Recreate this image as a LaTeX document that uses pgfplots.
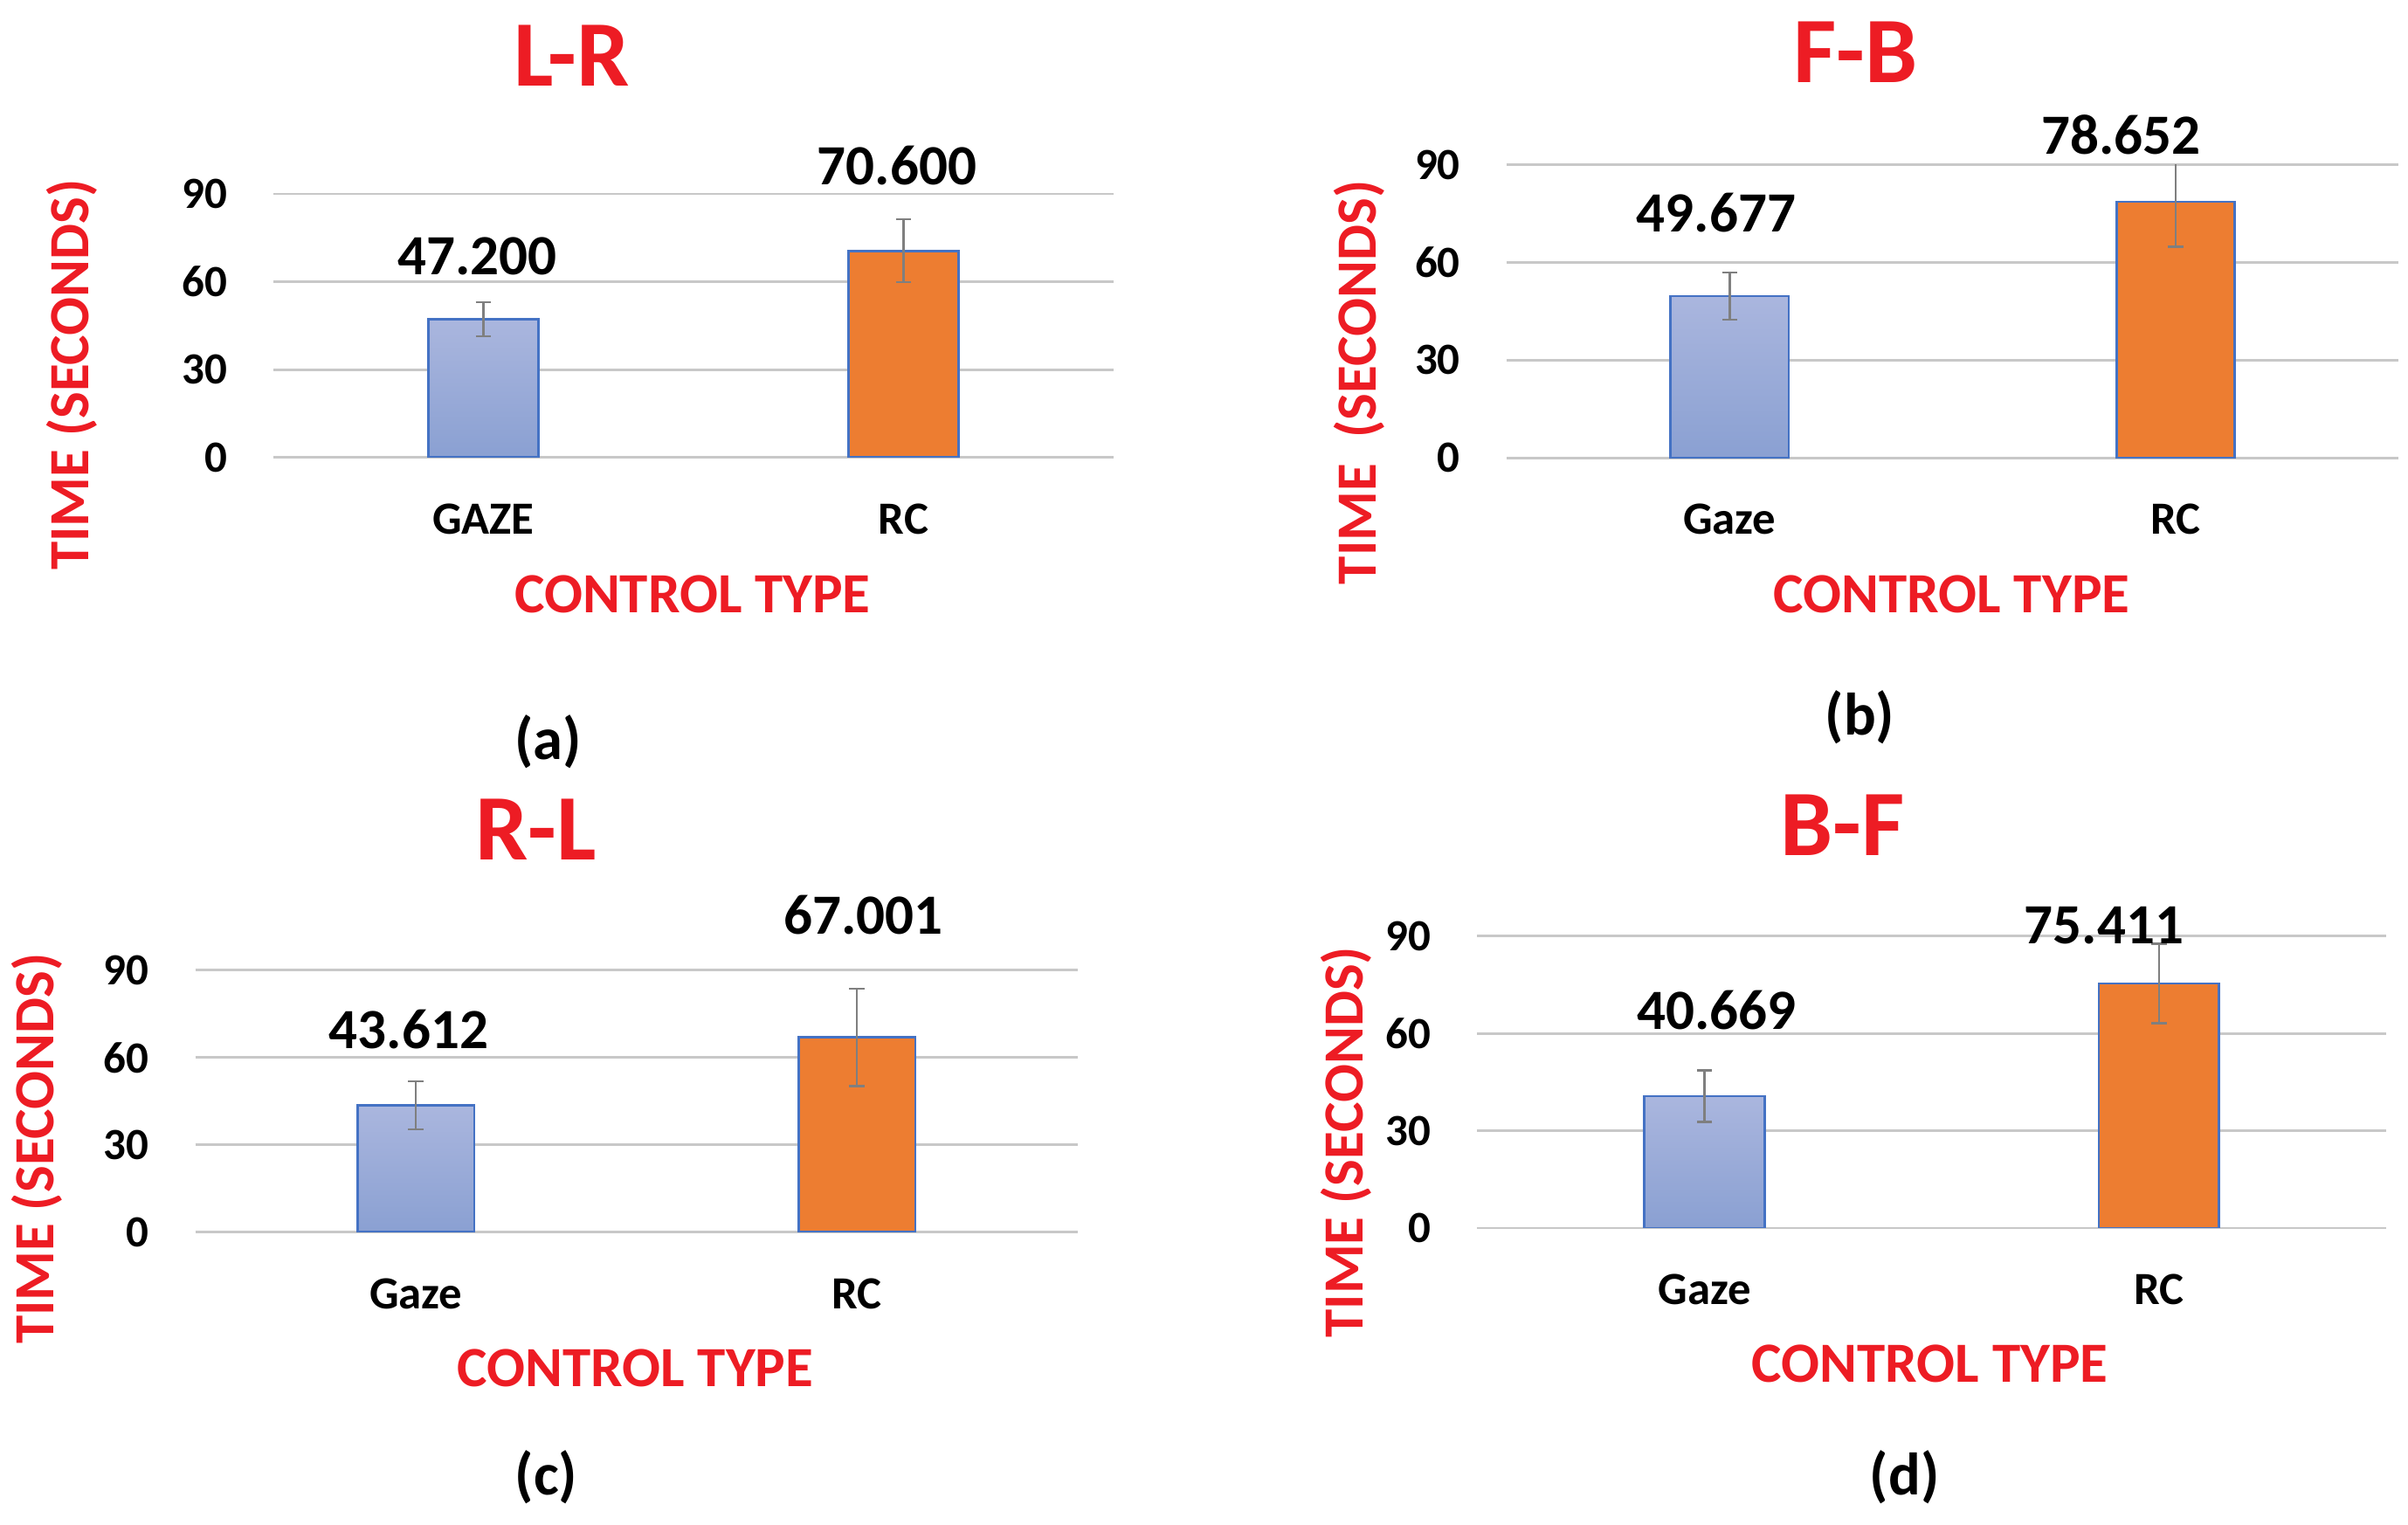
\documentclass[border=0pt]{standalone}
\usepackage{pgfplots}
\pgfplotsset{compat=1.18}
\usepackage{fontspec}
\setmainfont{Carlito}

\definecolor{ttlred}{RGB}{237,28,36}
\definecolor{edgeblue}{RGB}{68,114,196}
\definecolor{rcorange}{RGB}{237,125,49}
\definecolor{gazetop}{RGB}{170,182,222}
\definecolor{gazebot}{RGB}{138,160,210}
\definecolor{errgray}{RGB}{127,127,127}
\definecolor{gridgray}{RGB}{200,200,200}

\newcommand{\fs}[1]{\fontsize{#1}{#1}\selectfont\bfseries}

\pgfplotsset{
  panel/.style={
    scale only axis, anchor=south west,
    ybar, bar width=0.265, bar shift=0pt,
    xmin=-0.5, xmax=1.5,
    ymin=0, ymax=90, ytick={0,30,60,90},
    xtick={0,1},
    ymajorgrids, grid style={gridgray, line width=1.6pt},
    axis line style={draw=none}, major tick length=0pt,
    /pgf/number format/assume math mode=true,
    yticklabel style={font=\fs{29}, anchor=east, inner sep=0pt, xshift=-30pt},
    xticklabel style={font=\fs{30}, anchor=center, inner sep=0pt, yshift=-40pt},
    title style={font=\fs{61}, text=ttlred, anchor=center},
    xlabel style={font=\fs{37}, text=ttlred, anchor=center},
    ylabel style={font=\fs{37}, text=ttlred, anchor=center},
    clip mode=individual,
    error bars/y dir=both, error bars/y explicit,
    error bars/error bar style={errgray, line width=1.5pt},
    error bars/error mark options={errgray, rotate=90, mark size=5pt, line width=1.5pt},
  },
  gazebar/.style={draw=edgeblue, line width=1.6pt, top color=gazetop, bottom color=gazebot},
  rcbar/.style={draw=edgeblue, line width=1.6pt, fill=rcorange},
}
\tikzset{
  vlabel/.style={font=\fs{37}, text=black},
  sublabel/.style={font=\fs{39}, text=black},
}

\begin{document}
\begin{tikzpicture}
\path[use as bounding box] (0pt,0pt) rectangle (1568pt,993pt);

% (a) L-R
\begin{axis}[panel, at={(178pt,695.1pt)}, width=547pt, height=171.6pt,
  bar width=0.262, xticklabels={GAZE,RC},
  title={L-R}, title style={at={(axis description cs:0.355,1.491)}},
  xlabel={CONTROL TYPE}, xlabel style={at={(axis description cs:0.499,-0.519)}},
  ylabel={TIME (SECONDS)}, ylabel style={at={(axis description cs:-0.2395,0.314)}}]
\addplot[gazebar] coordinates {(0,47.2) +- (0,5.85)};
\addplot[rcbar] coordinates {(1,70.6) +- (0,10.75)};
\node[vlabel] at (axis cs:-0.015,68.7) {47.200};
\node[vlabel] at (axis cs:0.985,99.8) {70.600};
\node[sublabel] at (axis description cs:0.327,-1.079) {(a)};
\end{axis}

% (b) F-B
\begin{axis}[panel, at={(981pt,694.9pt)}, width=581pt, height=190.8pt,
  xticklabels={Gaze,RC},
  title={F-B}, title style={at={(axis description cs:0.391,1.353)}},
  xlabel={CONTROL TYPE}, xlabel style={at={(axis description cs:0.499,-0.466)}},
  ylabel={TIME\ \ (SECONDS)}, ylabel style={at={(axis description cs:-0.165,0.257)}}]
\addplot[gazebar] coordinates {(0,49.677) +- (0,7.25)};
\addplot[rcbar] coordinates {(1,78.652) +- (0,13.8)};
\node[vlabel] at (axis cs:-0.03,75.4) {49.677};
\node[vlabel] at (axis cs:0.878,99.3) {78.652};
\node[sublabel] at (axis description cs:0.396,-0.885) {(b)};
\end{axis}

% (c) R-L
\begin{axis}[panel, at={(127.2pt,190.6pt)}, width=574.4pt, height=170.6pt,
  xticklabels={Gaze,RC},
  title={R-L}, title style={at={(axis description cs:0.386,1.503)}},
  xlabel={CONTROL TYPE}, xlabel style={at={(axis description cs:0.499,-0.519)}},
  ylabel={TIME (SECONDS)}, ylabel style={at={(axis description cs:-0.18,0.319)}}]
\addplot[gazebar] coordinates {(0,43.612) +- (0,8.3)};
\addplot[rcbar] coordinates {(1,67.001) +- (0,16.7)};
\node[vlabel] at (axis cs:-0.016,69.7) {43.612};
\node[vlabel] at (axis cs:1.014,108.9) {67.001};
\node[sublabel] at (axis description cs:0.398,-0.935) {(c)};
\end{axis}

% (d) B-F
\begin{axis}[panel, at={(962pt,193.4pt)}, width=591.8pt, height=190pt,
  xticklabels={Gaze,RC},
  title={B-F}, title style={at={(axis description cs:0.402,1.35)}},
  xlabel={CONTROL TYPE}, xlabel style={at={(axis description cs:0.498,-0.465)}},
  ylabel={TIME (SECONDS)}, ylabel style={at={(axis description cs:-0.144,0.294)}}]
\addplot[gazebar] coordinates {(0,40.669) +- (0,7.95)};
\addplot[rcbar] coordinates {(1,75.411) +- (0,12.25)};
\node[vlabel] at (axis cs:0.027,67.1) {40.669};
\node[vlabel] at (axis cs:0.879,93.4) {75.411};
\node[sublabel] at (axis description cs:0.47,-0.855) {(d)};
\end{axis}
\end{tikzpicture}
\end{document}
